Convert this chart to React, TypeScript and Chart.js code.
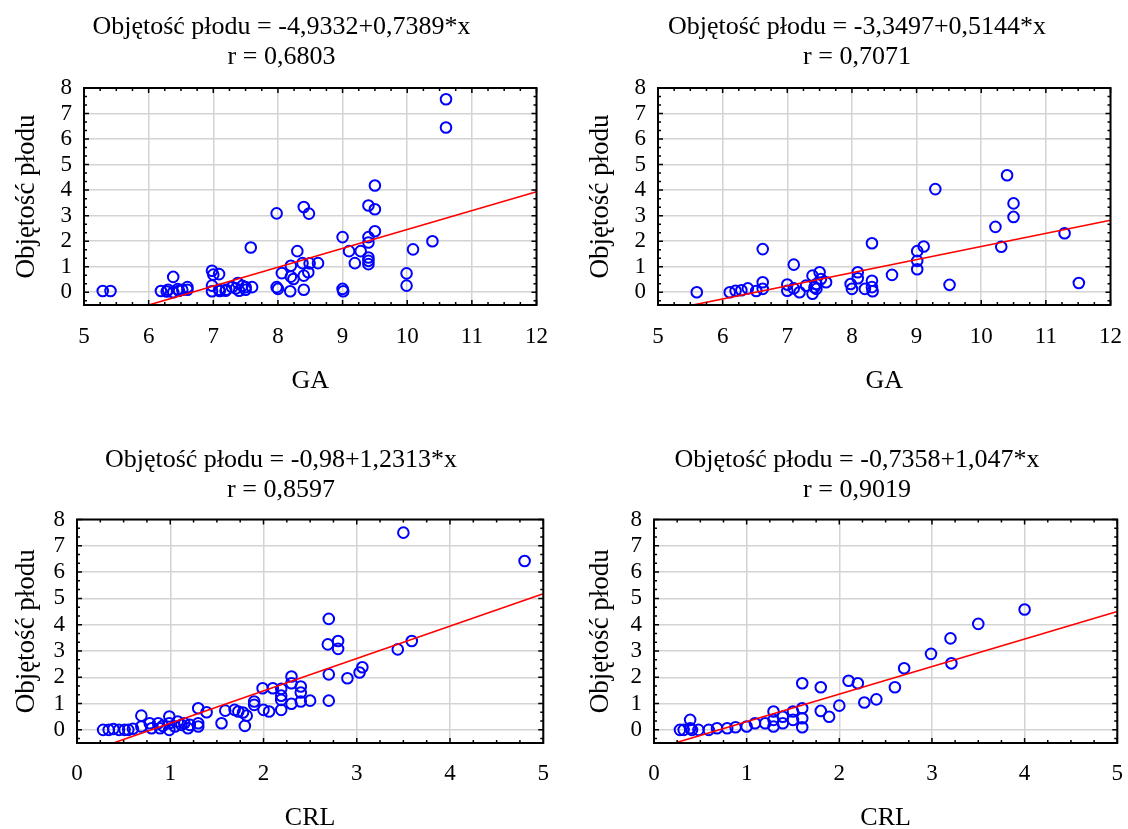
import React, { useEffect, useRef } from 'react';
import { Chart, registerables } from 'chart.js';

Chart.register(...registerables);

const FONT = "'Liberation Serif', 'Times New Roman', serif";

// Panel 1: GA vs volume
const ga1X = [5.29, 5.41, 6.19, 6.28, 6.3, 6.38, 6.38, 6.45, 6.47, 6.52, 6.6, 6.6, 6.98, 7.0, 7.09, 6.98, 6.98, 7.09, 7.1, 7.19, 7.2, 7.29, 7.35, 7.38, 7.4, 7.45, 7.5, 7.5, 7.6, 7.58, 7.98, 7.98, 8.0, 8.06, 8.19, 8.2, 8.2, 8.24, 8.3, 8.38, 8.4, 8.4, 8.4, 8.47, 8.48, 8.49, 8.62, 9.0, 9.0, 9.01, 9.1, 9.19, 9.28, 9.4, 9.4, 9.4, 9.4, 9.4, 9.4, 9.5, 9.5, 9.5, 9.99, 9.99, 10.09, 10.39, 10.6, 10.6];
const ga1Y = [0.05, 0.05, 0.05, 0.03, 0.1, 0.6, 0.0, 0.12, 0.06, 0.1, 0.2, 0.1, 0.84, 0.69, 0.71, 0.26, 0.04, 0.1, 0.05, 0.06, 0.1, 0.2, 0.15, 0.36, 0.06, 0.25, 0.2, 0.1, 0.2, 1.75, 3.09, 0.2, 0.13, 0.75, 0.04, 1.04, 0.61, 0.52, 1.61, 1.14, 0.1, 0.65, 3.34, 0.78, 3.08, 1.13, 1.14, 2.16, 0.13, 0.04, 1.61, 1.14, 1.61, 3.4, 2.16, 1.95, 1.36, 1.23, 1.1, 3.25, 4.18, 2.39, 0.74, 0.26, 1.68, 2.0, 7.56, 6.45];

// Panel 2: GA vs volume
const ga2X = [5.6, 6.11, 6.2, 6.29, 6.39, 6.52, 6.62, 6.62, 6.62, 7.0, 7.0, 7.1, 7.1, 7.19, 7.29, 7.39, 7.39, 7.42, 7.45, 7.5, 7.52, 7.6, 7.45, 7.98, 8.0, 8.09, 8.09, 8.2, 8.31, 8.31, 8.31, 8.32, 8.62, 9.01, 9.01, 9.01, 9.11, 9.29, 9.51, 10.22, 10.31, 10.4, 10.5, 10.5, 11.29, 11.51];
const ga2Y = [0.0, 0.0, 0.06, 0.08, 0.15, 0.05, 1.69, 0.39, 0.13, 0.3, 0.06, 1.08, 0.15, 0.0, 0.26, 0.65, -0.06, 0.19, 0.32, 0.78, 0.52, 0.39, 0.13, 0.32, 0.13, 0.78, 0.55, 0.13, 1.92, 0.45, 0.2, 0.04, 0.68, 1.61, 1.23, 0.9, 1.79, 4.04, 0.29, 2.56, 1.78, 4.58, 3.48, 2.95, 2.31, 0.36];

// Panel 3: CRL vs volume
const crl1X = [0.28, 0.34, 0.39, 0.45, 0.51, 0.55, 0.6, 0.69, 0.69, 0.78, 0.8, 0.87, 0.89, 0.92, 0.99, 0.99, 0.99, 1.05, 1.08, 1.12, 1.15, 1.19, 1.21, 1.3, 1.3, 1.3, 1.39, 1.55, 1.59, 1.69, 1.73, 1.78, 1.8, 1.82, 1.9, 1.9, 1.99, 2.0, 2.06, 2.1, 2.19, 2.19, 2.19, 2.19, 2.3, 2.3, 2.3, 2.4, 2.4, 2.4, 2.5, 2.7, 2.69, 2.8, 2.8, 2.7, 2.7, 2.9, 3.03, 3.06, 3.44, 3.59, 3.5, 4.8];
const crl1Y = [0.0, 0.0, 0.03, 0.0, 0.0, 0.0, 0.04, 0.54, 0.13, 0.25, 0.06, 0.25, 0.06, 0.15, 0.51, 0.25, 0.0, 0.13, 0.32, 0.19, 0.25, 0.06, 0.19, 0.82, 0.25, 0.13, 0.67, 0.25, 0.73, 0.76, 0.7, 0.66, 0.15, 0.54, 1.08, 0.95, 1.58, 0.76, 0.7, 1.58, 1.56, 1.3, 1.14, 0.76, 2.03, 1.77, 0.99, 1.65, 1.42, 1.08, 1.11, 4.22, 3.25, 3.38, 3.08, 2.11, 1.11, 1.96, 2.18, 2.38, 3.06, 3.38, 7.5, 6.42];

// Panel 4: CRL vs volume
const crl2X = [0.28, 0.32, 0.39, 0.39, 0.41, 0.48, 0.59, 0.68, 0.79, 0.88, 1.0, 1.09, 1.2, 1.29, 1.29, 1.29, 1.39, 1.39, 1.5, 1.5, 1.6, 1.6, 1.6, 1.6, 1.8, 1.8, 1.89, 2.0, 2.1, 2.2, 2.27, 2.4, 2.6, 2.7, 2.99, 3.2, 3.21, 3.5, 4.0];
const crl2Y = [0.0, 0.0, 0.38, 0.06, 0.0, 0.0, 0.0, 0.06, 0.06, 0.1, 0.13, 0.25, 0.25, 0.7, 0.38, 0.13, 0.5, 0.25, 0.7, 0.38, 1.77, 0.82, 0.44, 0.1, 1.62, 0.72, 0.5, 0.92, 1.87, 1.77, 1.04, 1.16, 1.62, 2.34, 2.89, 3.48, 2.53, 4.03, 4.58];

const panelX = [ga1X, ga2X, crl1X, crl2X];
const panelY = [ga1Y, ga2Y, crl1Y, crl2Y];
const intercepts = [-4.9332, -3.3497, -0.98, -0.7358];
const slopes = [0.7389, 0.5144, 1.2313, 1.047];
const titleEq = [
  'Objętość płodu = -4,9332+0,7389*x',
  'Objętość płodu = -3,3497+0,5144*x',
  'Objętość płodu = -0,98+1,2313*x',
  'Objętość płodu = -0,7358+1,047*x',
];
const titleR = ['r = 0,6803', 'r = 0,7071', 'r = 0,8597', 'r = 0,9019'];
const xTitles = ['GA', 'GA', 'CRL', 'CRL'];
const yTitle = 'Objętość płodu';
const xMins = [5, 5, 0, 0];
const xMaxs = [12, 12, 5, 5];
const yMin = -0.5;
const yMax = 8;

// layout (pixels) for each panel
const W = 566;
const H = 414;
const layouts = [
  { left: 0, top: 0, padL: 24, L: 84, R: 539, T: 88, B: 305, tpt: 12, tpb: 16, xtp: 18, xpb: 17 },
  { left: 574, top: 0, padL: 27, L: 84, R: 539, T: 88, B: 305, tpt: 12, tpb: 16, xtp: 18, xpb: 17 },
  { left: 0, top: 430, padL: 18, L: 77, R: 544, T: 89.5, B: 313, tpt: 15, tpb: 14.5, xtp: 17, xpb: 10.5 },
  { left: 574, top: 430, padL: 21, L: 80, R: 545, T: 89.5, B: 313, tpt: 15, tpb: 14.5, xtp: 17, xpb: 10.5 },
];

const framePlugin = {
  id: 'frameTicks',
  afterDraw(chart: any) {
    const { ctx, chartArea: a } = chart;
    const x = chart.scales.x;
    const y = chart.scales.y;
    ctx.save();
    ctx.strokeStyle = '#000';
    ctx.lineWidth = 1.5;
    ctx.beginPath();
    const xs = Math.round(x.min * 4);
    const xe = Math.round(x.max * 4);
    for (let i = xs; i <= xe; i++) {
      const px = x.getPixelForValue(i / 4);
      const len = i % 4 === 0 ? 5 : 3;
      ctx.moveTo(px, a.bottom);
      ctx.lineTo(px, a.bottom - len);
      ctx.moveTo(px, a.top);
      ctx.lineTo(px, a.top + len);
    }
    const ys = Math.ceil(y.min * 3 - 1e-9);
    const ye = Math.floor(y.max * 3 + 1e-9);
    for (let i = ys; i <= ye; i++) {
      const py = y.getPixelForValue(i / 3);
      const len = i % 3 === 0 ? 5 : 3;
      ctx.moveTo(a.left, py);
      ctx.lineTo(a.left + len, py);
      ctx.moveTo(a.right, py);
      ctx.lineTo(a.right - len, py);
    }
    ctx.stroke();
    ctx.lineWidth = 2;
    ctx.strokeRect(a.left, a.top, a.right - a.left, a.bottom - a.top);
    ctx.restore();
  },
};

function Panel({ idx }: { idx: number }) {
  const ref = useRef<HTMLCanvasElement | null>(null);
  useEffect(() => {
    const canvas = ref.current;
    if (!canvas) return;
    const lay = layouts[idx];
    const xs = panelX[idx];
    const ys = panelY[idx];
    const a = intercepts[idx];
    const b = slopes[idx];
    const x0 = xMins[idx];
    const x1 = xMaxs[idx];
    const yTitleSize = 27;
    const yTitleLh = yTitleSize * 1.2;
    const chart = new Chart(canvas, {
      type: 'scatter',
      data: {
        datasets: [
          {
            data: xs.map((v, i) => ({ x: v, y: ys[i] })),
            pointStyle: 'circle',
            pointRadius: 5.3,
            pointHoverRadius: 5.3,
            pointBorderWidth: 2,
            borderColor: '#0000ff',
            backgroundColor: 'rgba(0,0,0,0)',
            pointBorderColor: '#0000ff',
            pointBackgroundColor: 'rgba(0,0,0,0)',
            order: 1,
          } as any,
          {
            data: [
              { x: x0, y: a + b * x0 },
              { x: x1, y: a + b * x1 },
            ],
            showLine: true,
            borderColor: '#ff0000',
            borderWidth: 1.6,
            pointRadius: 0,
            pointHoverRadius: 0,
            order: 0,
          } as any,
        ],
      },
      options: {
        responsive: false,
        animation: false,
        events: [],
        layout: { padding: { left: lay.padL, right: W - lay.R, top: 0, bottom: 0 } },
        plugins: {
          legend: { display: false },
          tooltip: { enabled: false },
          title: {
            display: true,
            text: [titleEq[idx], titleR[idx]],
            color: '#000',
            font: { family: FONT, size: 26, weight: 'normal', lineHeight: '30px' },
            padding: { top: lay.tpt, bottom: lay.tpb },
          },
        },
        scales: {
          x: {
            type: 'linear',
            min: x0,
            max: x1,
            ticks: {
              stepSize: 1,
              includeBounds: false,
              color: '#000',
              font: { family: FONT, size: 23 },
              padding: lay.xtp,
              maxRotation: 0,
              autoSkip: false,
            },
            grid: { color: '#d3d3d3', lineWidth: 1.5, drawTicks: false },
            border: { display: false },
            title: {
              display: true,
              text: xTitles[idx],
              color: '#000',
              font: { family: FONT, size: 26 },
              padding: { top: 0, bottom: lay.xpb },
            },
            afterFit: (s: any) => {
              s.height = H - lay.B;
            },
          },
          y: {
            type: 'linear',
            min: yMin,
            max: yMax,
            ticks: {
              stepSize: 1,
              includeBounds: false,
              color: '#000',
              font: { family: FONT, size: 23 },
              padding: 12,
              autoSkip: false,
            },
            grid: { color: '#d3d3d3', lineWidth: 1.5, drawTicks: false },
            border: { display: false },
            title: {
              display: true,
              text: yTitle,
              color: '#000',
              font: { family: FONT, size: yTitleSize, lineHeight: 1.2 },
              padding: { top: 27 - lay.padL - yTitleLh / 2, bottom: 0 },
            },
            afterFit: (s: any) => {
              s.width = lay.L - lay.padL;
            },
          },
        },
      } as any,
      plugins: [framePlugin],
    });
    return () => chart.destroy();
  }, [idx]);
  const lay = layouts[idx];
  return (
    <canvas
      ref={ref}
      width={W}
      height={H}
      style={{ position: 'absolute', left: lay.left, top: lay.top, width: W, height: H }}
    />
  );
}

export default function App() {
  return (
    <div
      style={{
        position: 'absolute',
        left: 0,
        top: 0,
        width: 1128,
        height: 829,
        overflow: 'hidden',
        background: '#fff',
      }}
    >
      {[0, 1, 2, 3].map((i) => (
        <Panel key={i} idx={i} />
      ))}
    </div>
  );
}
